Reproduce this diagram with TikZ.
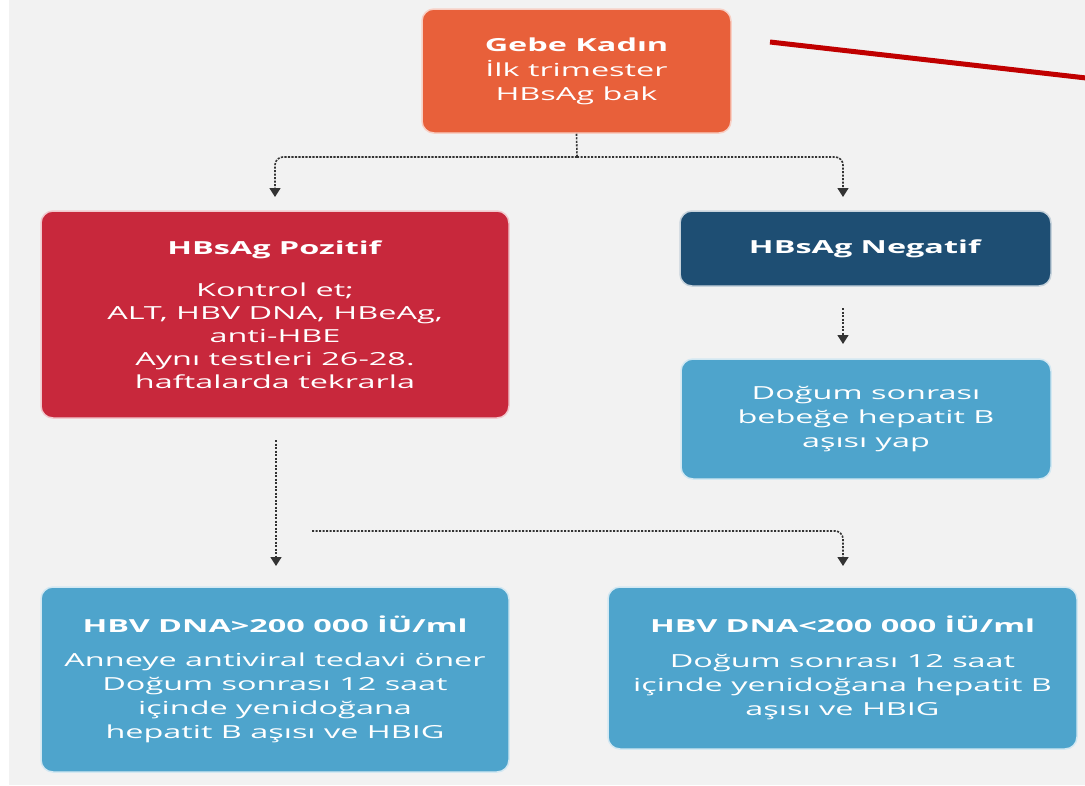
\documentclass[tikz,border=0pt]{standalone}
\usepackage{fontspec}
\setmainfont{Open Sans}
\newfontfamily\widefont[FakeStretch=1.8]{Open Sans}
\usetikzlibrary{arrows.meta,calc}
\definecolor{bg}{HTML}{F2F2F2}
\definecolor{orangebox}{HTML}{E8603A}
\definecolor{redbox}{HTML}{C8283C}
\definecolor{darkblue}{HTML}{1E4E73}
\definecolor{lightblue}{HTML}{4EA4CC}
\definecolor{conncol}{HTML}{333333}
\definecolor{redline}{HTML}{C00000}
\tikzset{
  box/.style={rounded corners=12pt, align=center, text=white,
    font=\widefont\fontsize{18}{24}\selectfont, inner sep=0pt},
  conn/.style={draw=conncol, line width=1.6pt, dash pattern=on 2.2pt off 1.3pt},
  tip/.style={-{Triangle[width=11pt,length=9pt]}},
}
\begin{document}
\begin{tikzpicture}[x=1pt,y=-1pt]
\useasboundingbox (0,0) rectangle (1085,785);
\fill[white] (0,0) rectangle (1085,785);
\fill[bg] (9,0) rectangle (1085,785);

% boxes
\node[box, fill=orangebox, draw=orangebox!30!white, line width=1.5pt,
  minimum width=309pt, minimum height=124pt] (top) at (576.5,71)
  {\textbf{Gebe Kadın}\\[1pt] İlk trimester\\ HBsAg bak};
\node[box, fill=redbox, draw=redbox!25!white, line width=1.5pt,
  minimum width=468pt, minimum height=207pt] (pos) at (275,314.5)
  {\textbf{HBsAg Pozitif}\\[18pt] Kontrol et;\\[-1pt] ALT, HBV DNA, HBeAg,\\[-1pt] anti-HBE\\[-1pt] Aynı testleri 26-28.\\[-1pt] haftalarda tekrarla};
\node[box, fill=darkblue, draw=darkblue!25!white, line width=1.5pt,
  minimum width=371pt, minimum height=75pt] (neg) at (865.5,248.5)
  {\textbf{HBsAg Negatif}};
\node[box, fill=lightblue, draw=lightblue!25!white, line width=1.5pt,
  minimum width=370pt, minimum height=120pt] (vac) at (866,419)
  {Doğum sonrası\\ bebeğe hepatit B\\ aşısı yap};
\node[box, fill=lightblue, draw=lightblue!25!white, line width=1.5pt,
  minimum width=468pt, minimum height=185pt] (high) at (275,679.5)
  {\textbf{HBV DNA>200 000 İÜ/ml}\\[10pt] Anneye antiviral tedavi öner\\ Doğum sonrası 12 saat\\ içinde yenidoğana\\ hepatit B aşısı ve HBIG};
\node[box, fill=lightblue, draw=lightblue!25!white, line width=1.5pt,
  minimum width=469pt, minimum height=162pt] (low) at (842.5,668)
  {\textbf{HBV DNA<200 000 İÜ/ml}\\[11pt] Doğum sonrası 12 saat\\ içinde yenidoğana hepatit B\\ aşısı ve HBIG};

% connector coordinates
\coordinate (split) at (577,157);
\coordinate (posin) at (275,197);
\coordinate (negin) at (843,197);
\coordinate (negout) at (843,308);
\coordinate (vacin) at (843,344);
\coordinate (posout) at (276,440);
\coordinate (highin) at (276,566);
\coordinate (hstart) at (312,531);
\coordinate (lowin) at (843,566);
\coordinate (rl1) at (770,42);
\coordinate (rl2) at (1095,79);

% connectors
\draw[conn] (top.south) -- (split);
\draw[conn, tip, rounded corners=8pt] (split) -| (posin);
\draw[conn, tip, rounded corners=8pt] (split) -| (negin);
\draw[conn, tip] (negout) -- (vacin);
\draw[conn, tip] (posout) -- (highin);
\draw[conn, tip, rounded corners=8pt] (hstart) -| (lowin);

% red line
\draw[redline, line width=5pt] (rl1) -- (rl2);
\end{tikzpicture}
\end{document}
